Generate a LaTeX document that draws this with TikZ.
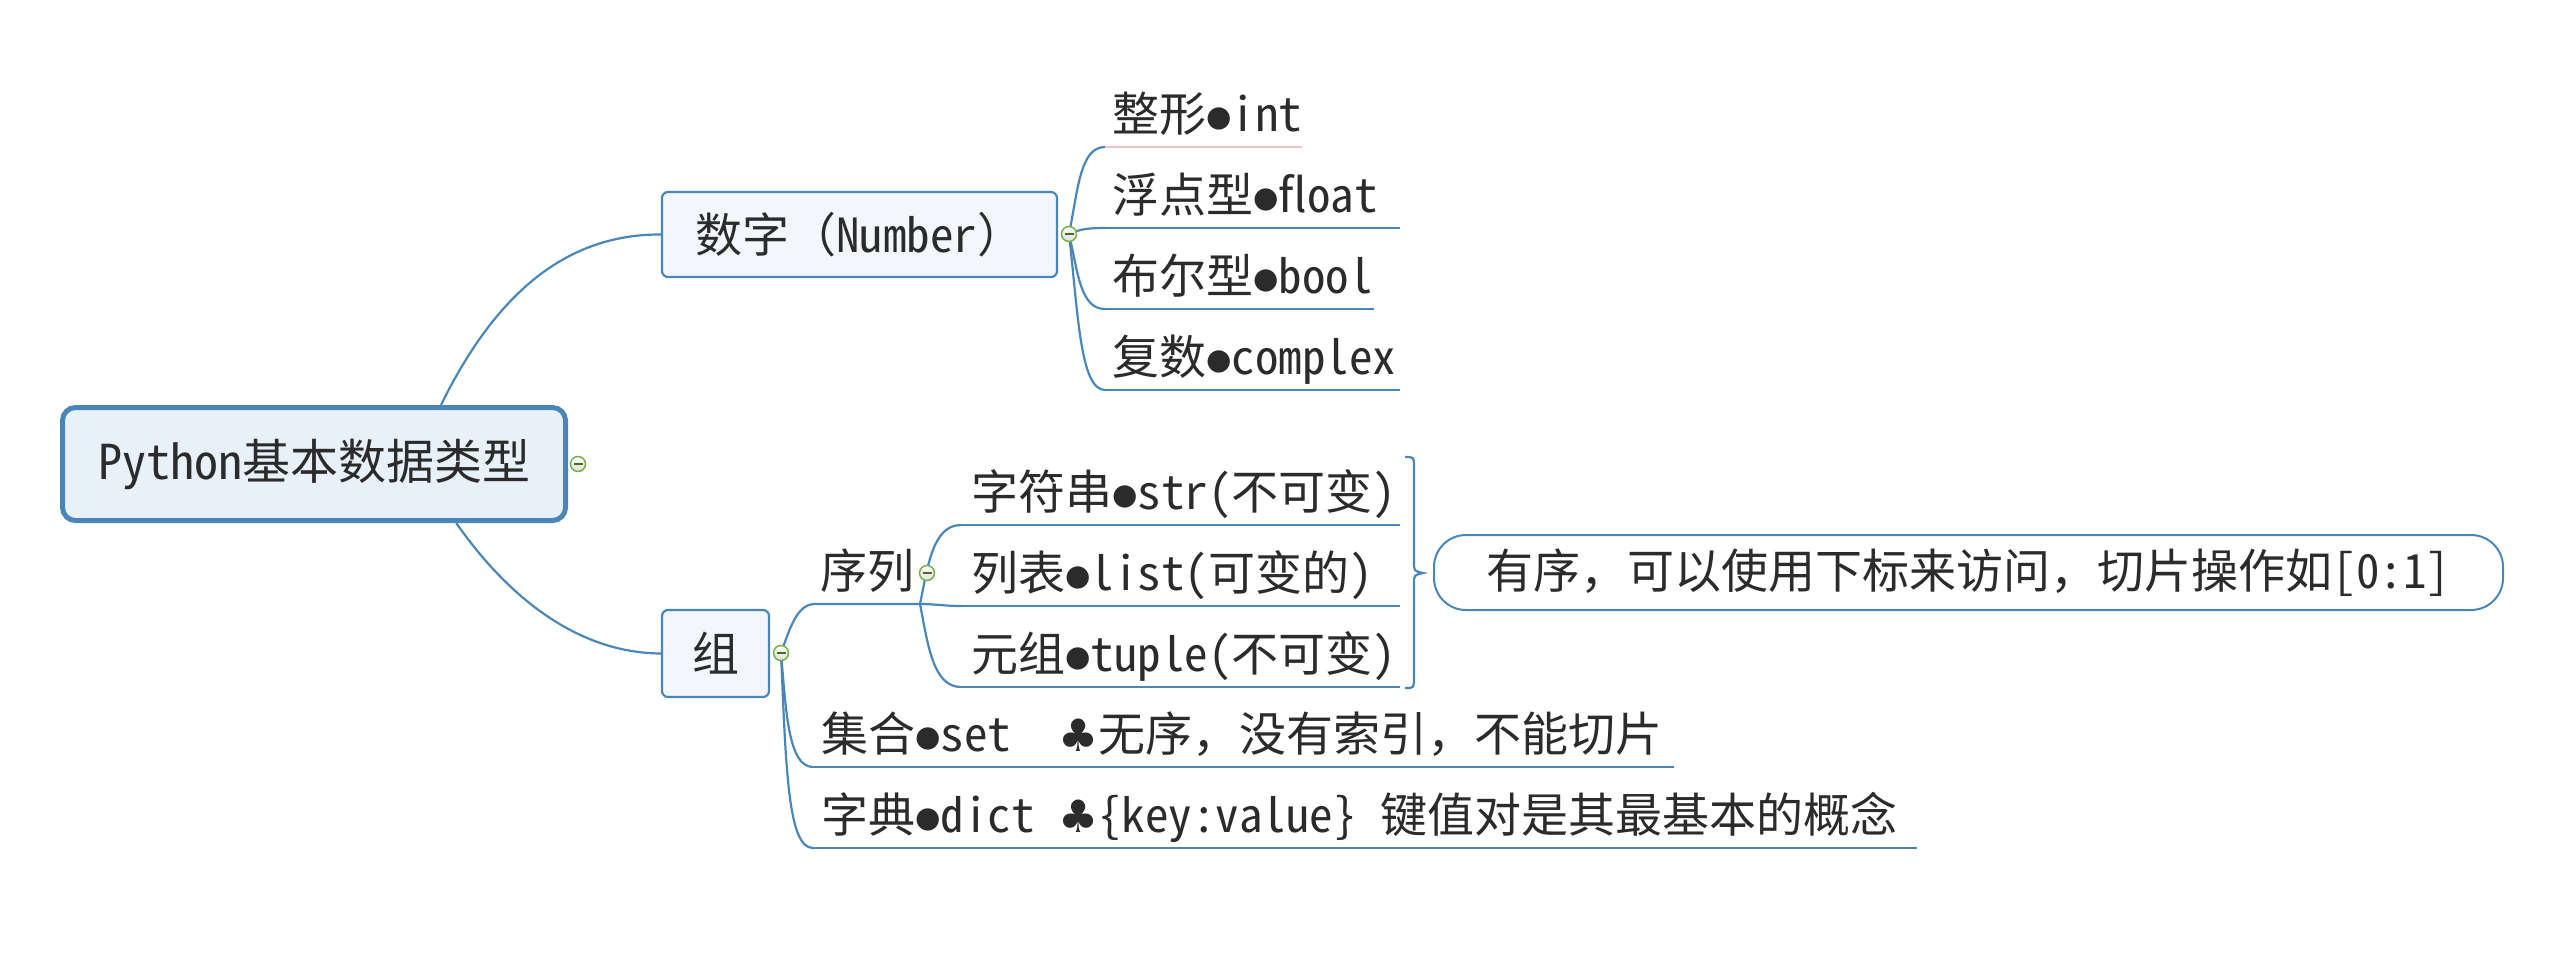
\documentclass[tikz,border=0pt]{standalone}
\usepackage{fontspec}
\usetikzlibrary{calc}
\setmainfont{Noto Sans CJK SC}
\newfontfamily\latf{Noto Sans CJK SC}[RawFeature=+hwid]
\newfontfamily\symf{DejaVu Sans}[Scale=0.62]
\newfontfamily\clubf{DejaVu Sans}[Scale=0.95]
\newcommand\lt[1]{{\latf #1}}
\newcommand\bul{\raisebox{5pt}{\symf ●}}
\newcommand\clb{{\clubf ♣}}
\newcommand\halfsp{\hspace{0.5em}}
\definecolor{lblue}{HTML}{4A87B8}
\definecolor{rootfill}{HTML}{E8F1FA}
\definecolor{boxfill}{HTML}{F3F7FC}
\definecolor{cgreen}{HTML}{78B144}
\definecolor{txt}{HTML}{2B2B2B}
\definecolor{pinkline}{HTML}{F4C2C2}
\begin{document}
\begin{tikzpicture}[x=1pt,y=-1pt,
  every node/.style={font=\fontsize{47}{56}\selectfont, text=txt},
  conn/.style={draw=lblue, line width=2.2pt},
  uline/.style={draw=lblue, line width=2.5pt},
  pinkul/.style={draw=pinkline, line width=2.5pt},
  lbl/.style={anchor=base west, inner sep=0pt},
  rootbox/.style={draw=lblue, line width=5pt, fill=rootfill, rounded corners=13pt, minimum width=503pt, minimum height=113pt, inner sep=0pt},
  topicbox/.style={draw=lblue, line width=2.2pt, fill=boxfill, rounded corners=6pt, inner sep=0pt},
  summbox/.style={draw=lblue, line width=2pt, fill=white, rounded corners=32pt, minimum width=1069pt, minimum height=75pt, inner sep=0pt},
  foldmark/.style={circle, minimum size=15pt, inner sep=0pt, draw=cgreen, line width=1.5pt, top color=white, bottom color=black!13,
    path picture={\draw[cgreen!60!black, line width=1.4pt] ([xshift=-4.5pt]path picture bounding box.center) -- ([xshift=4.5pt]path picture bounding box.center);}},
]
\fill[white] (0,0) rectangle (2553,956);
\useasboundingbox (0,0) rectangle (2553,956);

% boxes
\node[rootbox] (root) at (314,464) {\fontsize{48}{56}\selectfont\lt{Python}基本数据类型};
\node[topicbox, minimum width=395pt, minimum height=85pt] (num) at (859.5,234.5) {数字（\lt{Number}）};
\node[topicbox, minimum width=107pt, minimum height=87pt] (grp) at (715.5,653.5) {组};
\node[summbox] (summ) at (1968.5,572.5) {有序，可以使用下标来访问，切片操作如\lt{[0:1]}};

% anchor points
\coordinate (rc) at (578,464);
\coordinate (nc) at (1069,234);
\coordinate (gc) at (781,653);
\coordinate (sc) at (927,573);
\coordinate (seqL) at (815,604);
\coordinate (seqR) at (920,604);
\coordinate (intL) at (1105,147);     \coordinate (intR) at (1302,147);
\coordinate (floatL) at (1105,228);   \coordinate (floatR) at (1400,228);
\coordinate (boolL) at (1105,309);    \coordinate (boolR) at (1374,309);
\coordinate (complexL) at (1105,390); \coordinate (complexR) at (1400,390);
\coordinate (strL) at (961,525);      \coordinate (strR) at (1400,525);
\coordinate (listL) at (961,606);     \coordinate (listR) at (1400,606);
\coordinate (tupleL) at (961,687);    \coordinate (tupleR) at (1400,687);
\coordinate (setL) at (813,767);      \coordinate (setR) at (1674,767);
\coordinate (dictL) at (813,848);     \coordinate (dictR) at (1917,848);
\coordinate (brT) at (1405,457);
\coordinate (brTip) at (1423,573);
\coordinate (brB) at (1405,688);

% root connectors
\draw[conn] ($(root.north west)!0.75!(root.north east)$) .. controls (495,295) and (565,234) .. (num.west);
\draw[conn] ($(root.south west)!0.78!(root.south east)$) .. controls (510,600) and (580,653) .. (grp.west);

% number children
\draw[conn] (nc) .. controls (1078,190) and (1080,147) .. (intL);
\draw[pinkul] (intL) -- (intR);
\draw[conn] (nc) .. controls (1078,231) and (1080,228) .. (floatL);
\draw[uline] (floatL) -- (floatR);
\draw[conn] (nc) .. controls (1078,272) and (1080,309) .. (boolL);
\draw[uline] (boolL) -- (boolR);
\draw[conn] (nc) .. controls (1078,312) and (1080,390) .. (complexL);
\draw[uline] (complexL) -- (complexR);
\node[lbl] (tint) at (1112,131) {整形\bul\lt{int}};
\node[lbl] (tfloat) at (1112,212) {浮点型\bul\lt{float}};
\node[lbl] (tbool) at (1112,293) {布尔型\bul\lt{bool}};
\node[lbl] (tcomplex) at (1112,374) {复数\bul\lt{complex}};

% group children
\draw[conn] (gc) .. controls (790,628) and (797,604) .. (seqL) -- (seqR);
\node[lbl] (tseq) at (820,588) {序列};
\draw[conn] (seqR) .. controls (928,565) and (933,525) .. (strL);
\draw[uline] (strL) -- (strR);
\draw[conn] (seqR) .. controls (935,604) and (945,606) .. (listL);
\draw[uline] (listL) -- (listR);
\draw[conn] (seqR) .. controls (928,645) and (933,687) .. (tupleL);
\draw[uline] (tupleL) -- (tupleR);
\node[lbl] (tstr) at (971,509) {字符串\bul\lt{str(}不可变\lt{)}};
\node[lbl] (tlist) at (971,590) {列表\bul\lt{list(}可变的\lt{)}};
\node[lbl] (ttuple) at (971,671) {元组\bul\lt{tuple(}不可变\lt{)}};

% brace
\draw[conn] (brT) .. controls (1414,457) .. (1414,467) -- (1414,562) .. controls (1414,571) .. (brTip) .. controls (1414,575) .. (1414,584) -- (1414,678) .. controls (1414,688) .. (brB);

\draw[conn] (gc) .. controls (786,710) and (788,767) .. (setL);
\draw[uline] (setL) -- (setR);
\draw[conn] (gc) .. controls (786,770) and (788,848) .. (dictL);
\draw[uline] (dictL) -- (dictR);
\node[lbl] (tset) at (821,751) {集合\bul\lt{set}\halfsp\halfsp\clb 无序，没有索引，不能切片};
\node[lbl] (tdict) at (821,832) {字典\bul\lt{dict}\halfsp\clb\lt{\{key:value\}}\halfsp 键值对是其最基本的概念};

% fold marks
\node[foldmark] (rcm) at (rc) {};
\node[foldmark] (ncm) at (nc) {};
\node[foldmark] (gcm) at (gc) {};
\node[foldmark] (scm) at (sc) {};
\end{tikzpicture}
\end{document}
